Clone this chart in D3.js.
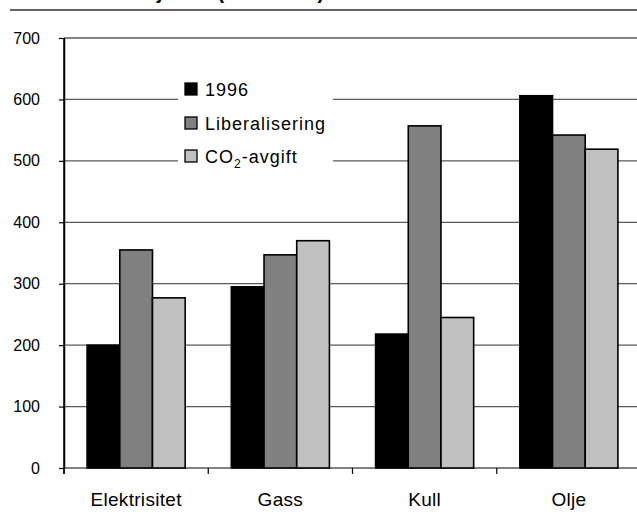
<!DOCTYPE html>
<html>
<head>
<meta charset="utf-8">
<script src="https://cdn.jsdelivr.net/npm/d3@7"></script>
<style>
  html, body { margin: 0; padding: 0; background: #fff; }
  svg { display: block; }
  text { font-family: "Liberation Sans", Arial, sans-serif; fill: #000; }
</style>
</head>
<body>
<svg id="chart" width="637" height="512"></svg>
<script>
const categories = ["Elektrisitet", "Gass", "Kull", "Olje"];
const seriesNames = ["1996", "Liberalisering", "CO2-avgift"];
const values1996 = [200, 295, 218, 606];
const valuesLib = [355, 347, 557, 542];
const valuesCO2 = [277, 370, 245, 519];
const seriesColors = ["#000000", "#808080", "#c0c0c0"];
const yTicks = [0, 100, 200, 300, 400, 500, 600, 700];
const titleText = "Forbruk av olje mv.  (1000 tonn)";

const seriesValues = [values1996, valuesLib, valuesCO2];
const svg = d3.select("#chart");

const y = d3.scaleLinear().domain([0, 700]).range([468, 38]);
const x0 = d3.scaleBand().domain(categories).range([64, 641]).paddingInner(0).paddingOuter(0);
const x1 = d3.scaleBand().domain(seriesNames).range([0, x0.bandwidth()]).paddingInner(0).paddingOuter(0.706);

// title (cut off at the top edge, as in the reference)
svg.append("text")
  .attr("x", 30).attr("y", -1)
  .style("font-size", "20px").style("font-weight", "bold")
  .text(titleText);
svg.append("line")
  .attr("x1", 10).attr("x2", 637).attr("y1", 10).attr("y2", 10)
  .attr("stroke", "#333").attr("stroke-width", 1.5);

// gridlines
svg.append("g").selectAll("line").data(yTicks).join("line")
  .attr("x1", 64).attr("x2", 637)
  .attr("y1", d => y(d)).attr("y2", d => y(d))
  .attr("stroke", "#5a5a5a").attr("stroke-width", 1.3);

// legend background
svg.append("rect").attr("x", 178).attr("y", 64).attr("width", 155).attr("height", 130).attr("fill", "#fff");

// bars
const groups = svg.append("g").selectAll("g").data(categories).join("g")
  .attr("transform", d => `translate(${x0(d)},0)`);
groups.selectAll("rect")
  .data((c, ci) => seriesNames.map((s, si) => ({ s, si, v: seriesValues[si][ci] })))
  .join("rect")
  .attr("x", d => x1(d.s))
  .attr("width", x1.bandwidth())
  .attr("y", d => y(d.v))
  .attr("height", d => y(0) - y(d.v))
  .attr("fill", d => seriesColors[d.si])
  .attr("stroke", "#000").attr("stroke-width", 1.6);

// y axis
const yAxis = svg.append("g").attr("transform", "translate(64,0)")
  .call(d3.axisLeft(y).tickValues(yTicks).tickSize(5).tickPadding(19).tickSizeOuter(0));
yAxis.select(".domain").attr("stroke", "#000").attr("stroke-width", 1.5);
yAxis.selectAll(".tick line").attr("stroke", "#000").attr("stroke-width", 1.2);
yAxis.selectAll(".tick text").style("font-size", "16px").style("font-family", "Liberation Sans, Arial, sans-serif").attr("fill", "#000");

// x axis ticks at band edges
const xEdges = categories.map(c => x0(c));
svg.append("g").selectAll("line").data(xEdges).join("line")
  .attr("x1", d => d).attr("x2", d => d)
  .attr("y1", y(0)).attr("y2", y(0) + 6)
  .attr("stroke", "#000").attr("stroke-width", 1.2);
svg.append("line").attr("x1", 64).attr("x2", 64).attr("y1", 38).attr("y2", y(0) + 6)
  .attr("stroke", "#000").attr("stroke-width", 1.5);

// x labels
svg.append("g").selectAll("text").data(categories).join("text")
  .attr("x", d => x0(d) + x0.bandwidth() / 2)
  .attr("y", 506)
  .attr("text-anchor", "middle")
  .style("font-size", "19px").style("letter-spacing", "0.3px")
  .text(d => d);

// legend
const legend = svg.append("g");
const legY = [83, 117, 150];
seriesNames.forEach((s, i) => {
  legend.append("rect").attr("x", 185).attr("y", legY[i]).attr("width", 12).attr("height", 12)
    .attr("fill", seriesColors[i]).attr("stroke", "#000").attr("stroke-width", 1.3);
  const t = legend.append("text").attr("x", 205).attr("y", legY[i] + 12.5)
    .style("font-size", "18px").style("letter-spacing", "1px");
  if (s === "CO2-avgift") {
    t.append("tspan").text("CO");
    t.append("tspan").attr("dy", 5).style("font-size", "12px").text("2");
    t.append("tspan").attr("dy", -5).text("-avgift");
  } else {
    t.text(s);
  }
});
</script>
</body>
</html>
